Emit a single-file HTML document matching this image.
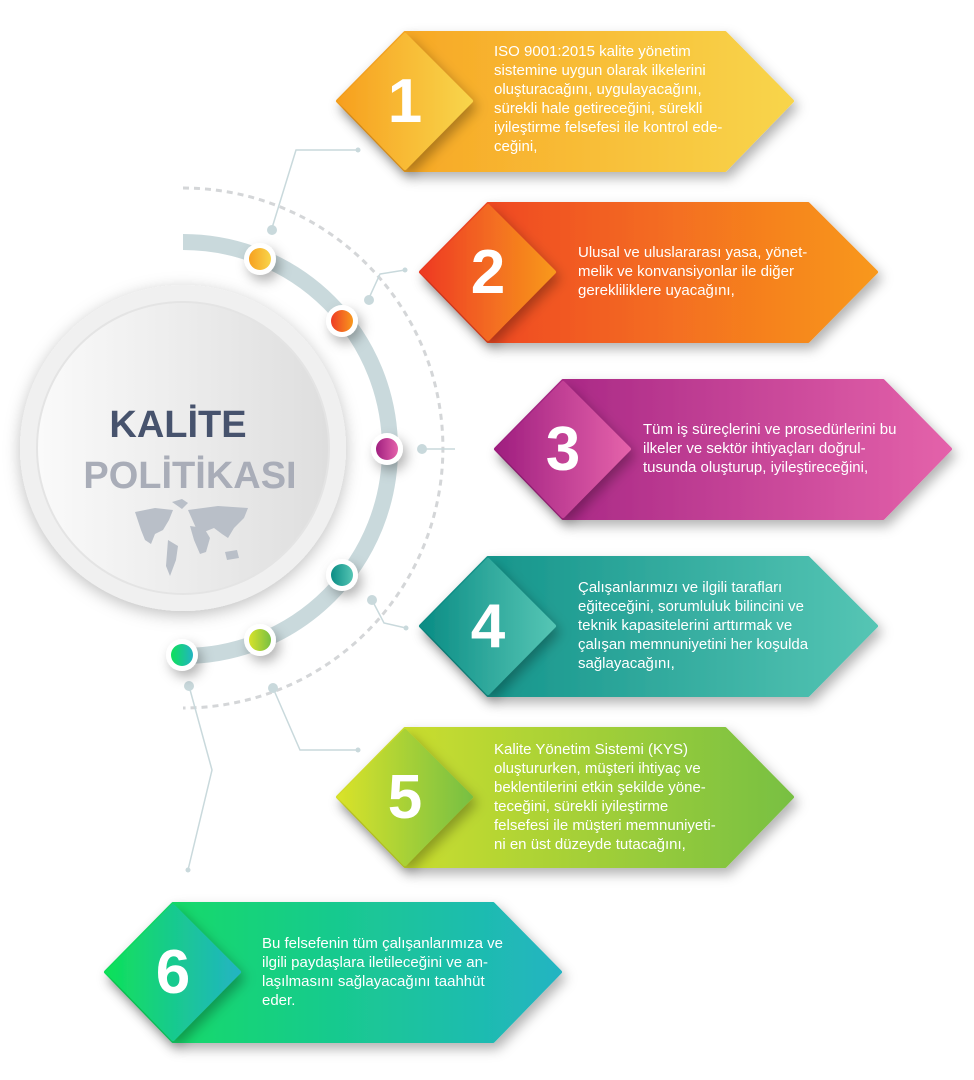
<!DOCTYPE html>
<html><head><meta charset="utf-8"><style>
body{margin:0;background:#fff;width:974px;height:1080px;overflow:hidden;position:relative;font-family:"Liberation Sans",sans-serif}
svg{position:absolute;left:0;top:0}
.t{position:absolute;color:#fff;font-size:15px;line-height:19px;letter-spacing:0px;white-space:nowrap}
.n{position:absolute;color:#fff;font-weight:bold;font-size:62px;width:80px;text-align:center}
</style></head><body>
<svg width="974" height="1080" viewBox="0 0 974 1080">
<defs>
<linearGradient id="g1" x1="0" y1="0" x2="1" y2="0"><stop offset="0" stop-color="#f7a01f"/><stop offset="1" stop-color="#f8d54b"/></linearGradient>
<linearGradient id="g2" x1="0" y1="0" x2="1" y2="0"><stop offset="0" stop-color="#ee3b24"/><stop offset="1" stop-color="#f8981d"/></linearGradient>
<linearGradient id="g3" x1="0" y1="0" x2="1" y2="0"><stop offset="0" stop-color="#a01f80"/><stop offset="1" stop-color="#e462aa"/></linearGradient>
<linearGradient id="g4" x1="0" y1="0" x2="1" y2="0"><stop offset="0" stop-color="#0b8d85"/><stop offset="1" stop-color="#55c5b4"/></linearGradient>
<linearGradient id="g5" x1="0" y1="0" x2="1" y2="0"><stop offset="0" stop-color="#d8e22a"/><stop offset="1" stop-color="#78c043"/></linearGradient>
<linearGradient id="g6" x1="0" y1="0" x2="1" y2="0"><stop offset="0" stop-color="#0fe05a"/><stop offset="1" stop-color="#22b4c2"/></linearGradient>
<linearGradient id="gc" x1="0" y1="0" x2="1" y2="0"><stop offset="0" stop-color="#fafafa"/><stop offset="1" stop-color="#dedede"/></linearGradient>
<filter id="sh" x="-20%" y="-20%" width="140%" height="140%"><feDropShadow dx="4" dy="6" stdDeviation="6" flood-opacity="0.3"/></filter>
<filter id="sh2" x="-20%" y="-20%" width="140%" height="140%"><feDropShadow dx="0" dy="4" stdDeviation="8" flood-opacity="0.25"/></filter>
</defs>
<path d="M183 188 A260 260 0 0 1 183 708" fill="none" stroke="#d4d6d8" stroke-width="3" stroke-dasharray="6 5"/>
<g stroke="#c9d9dc" stroke-width="1.5" fill="none">
<polyline points="272,228 296,150 358,150"/>
<polyline points="369,298 380,274 405,270"/>
<polyline points="422,449 455,449"/>
<polyline points="372,600 384,623 406,628"/>
<polyline points="273,688 300,750 358,750"/>
<polyline points="189,686 212,770 188,870"/>
</g>
<g fill="#c9d9dc">
<circle cx="272" cy="230" r="5"/><circle cx="358" cy="150" r="2.5"/>
<circle cx="369" cy="300" r="5"/><circle cx="405" cy="270" r="2.5"/>
<circle cx="422" cy="449" r="5"/>
<circle cx="372" cy="600" r="5"/><circle cx="406" cy="628" r="2.5"/>
<circle cx="273" cy="688" r="5"/><circle cx="358" cy="750" r="2.5"/>
<circle cx="189" cy="686" r="5"/><circle cx="188" cy="870" r="2.5"/>
</g>
<path d="M183 242 A207 207 0 0 1 183 656" fill="none" stroke="#c9d9dc" stroke-width="16"/>
<circle cx="183" cy="448" r="163" fill="#f0f0f0" filter="url(#sh2)"/>
<circle cx="183" cy="448" r="146" fill="url(#gc)" stroke="#e4e4e4" stroke-width="2"/>
<g filter="url(#sh)">
<circle cx="260" cy="259" r="16" fill="#fff"/><circle cx="342" cy="321" r="16" fill="#fff"/><circle cx="387" cy="449" r="16" fill="#fff"/>
<circle cx="342" cy="575" r="16" fill="#fff"/><circle cx="260" cy="640" r="16" fill="#fff"/><circle cx="182" cy="655" r="16" fill="#fff"/>
</g>
<circle cx="260" cy="259" r="11" fill="url(#g1)"/><circle cx="342" cy="321" r="11" fill="url(#g2)"/><circle cx="387" cy="449" r="11" fill="url(#g3)"/>
<circle cx="342" cy="575" r="11" fill="url(#g4)"/><circle cx="260" cy="640" r="11" fill="url(#g5)"/><circle cx="182" cy="655" r="11" fill="url(#g6)"/>
<g fill="#b9bfc8">
<path d="M135 512 l20 -4 l18 2 l-4 10 l-6 10 l-8 4 l-4 10 l-6 -4 l-4 -10 z"/>
<path d="M168 540 l10 6 l-2 14 l-6 16 l-4 -10 z"/>
<path d="M172 502 l10 -3 l6 4 l-6 6 z"/>
<path d="M188 510 l30 -4 l30 2 l-4 10 l-10 10 l-6 10 l-6 -4 l-8 -6 l-10 4 l-8 -4 z"/>
<path d="M190 526 l14 2 l6 10 l-4 14 l-6 2 l-6 -14 z"/>
<path d="M225 552 l12 -2 l2 8 l-12 2 z"/>
</g>
<g filter="url(#sh)" stroke-width="4" stroke-linejoin="round">
<path d="M338 101 L405 33 L725 33 L792 101 L725 170 L405 170 Z" fill="url(#g1)" stroke="url(#g1)"/>
<path d="M421 272 L488 204 L808 204 L876 272 L808 341 L488 341 Z" fill="url(#g2)" stroke="url(#g2)"/>
<path d="M496 449 L563 381 L883 381 L950 449 L883 518 L563 518 Z" fill="url(#g3)" stroke="url(#g3)"/>
<path d="M421 626 L488 558 L808 558 L876 626 L808 695 L488 695 Z" fill="url(#g4)" stroke="url(#g4)"/>
<path d="M338 797 L405 729 L725 729 L792 797 L725 866 L405 866 Z" fill="url(#g5)" stroke="url(#g5)"/>
<path d="M106 972 L173 904 L493 904 L560 972 L493 1041 L173 1041 Z" fill="url(#g6)" stroke="url(#g6)"/>
</g>
<g filter="url(#sh)" stroke-width="4" stroke-linejoin="round">
<path d="M340 101 L405 35 L471 101 L405 168 Z" fill="url(#g1)" stroke="url(#g1)"/>
<path d="M423 272 L488 206 L554 272 L488 339 Z" fill="url(#g2)" stroke="url(#g2)"/>
<path d="M498 449 L563 383 L629 449 L563 516 Z" fill="url(#g3)" stroke="url(#g3)"/>
<path d="M423 626 L488 560 L554 626 L488 693 Z" fill="url(#g4)" stroke="url(#g4)"/>
<path d="M340 797 L405 731 L471 797 L405 864 Z" fill="url(#g5)" stroke="url(#g5)"/>
<path d="M108 972 L173 906 L239 972 L173 1039 Z" fill="url(#g6)" stroke="url(#g6)"/>
</g>
<text x="178" y="437" text-anchor="middle" font-family="Liberation Sans, sans-serif" font-weight="bold" font-size="38" fill="#47536d">KALİTE</text>
<text x="190" y="488" text-anchor="middle" font-family="Liberation Sans, sans-serif" font-weight="bold" font-size="38" fill="#a9adb8">POLİTİKASI</text>
</svg>
<div class="n" style="left:365px;top:66px">1</div>
<div class="n" style="left:448px;top:237px">2</div>
<div class="n" style="left:523px;top:414px">3</div>
<div class="n" style="left:448px;top:591px">4</div>
<div class="n" style="left:365px;top:762px">5</div>
<div class="n" style="left:133px;top:937px">6</div>
<div class="t" style="left:494px;top:42px">ISO 9001:2015 kalite yönetim<br>sistemine uygun olarak ilkelerini<br>oluşturacağını, uygulayacağını,<br>sürekli hale getireceğini, sürekli<br>iyileştirme felsefesi ile kontrol ede-<br>ceğini,</div>
<div class="t" style="left:578px;top:243px">Ulusal ve uluslararası yasa, yönet-<br>melik ve konvansiyonlar ile diğer<br>gerekliliklere uyacağını,</div>
<div class="t" style="left:643px;top:420px">Tüm iş süreçlerini ve prosedürlerini bu<br>ilkeler ve sektör ihtiyaçları doğrul-<br>tusunda oluşturup, iyileştireceğini,</div>
<div class="t" style="left:578px;top:578px">Çalışanlarımızı ve ilgili tarafları<br>eğiteceğini, sorumluluk bilincini ve<br>teknik kapasitelerini arttırmak ve<br>çalışan memnuniyetini her koşulda<br>sağlayacağını,</div>
<div class="t" style="left:494px;top:740px">Kalite Yönetim Sistemi (KYS)<br>oluştururken, müşteri ihtiyaç ve<br>beklentilerini etkin şekilde yöne-<br>teceğini, sürekli iyileştirme<br>felsefesi ile müşteri memnuniyeti-<br>ni en üst düzeyde tutacağını,</div>
<div class="t" style="left:262px;top:934px">Bu felsefenin tüm çalışanlarımıza ve<br>ilgili paydaşlara iletileceğini ve an-<br>laşılmasını sağlayacağını taahhüt<br>eder.</div>
</body></html>
